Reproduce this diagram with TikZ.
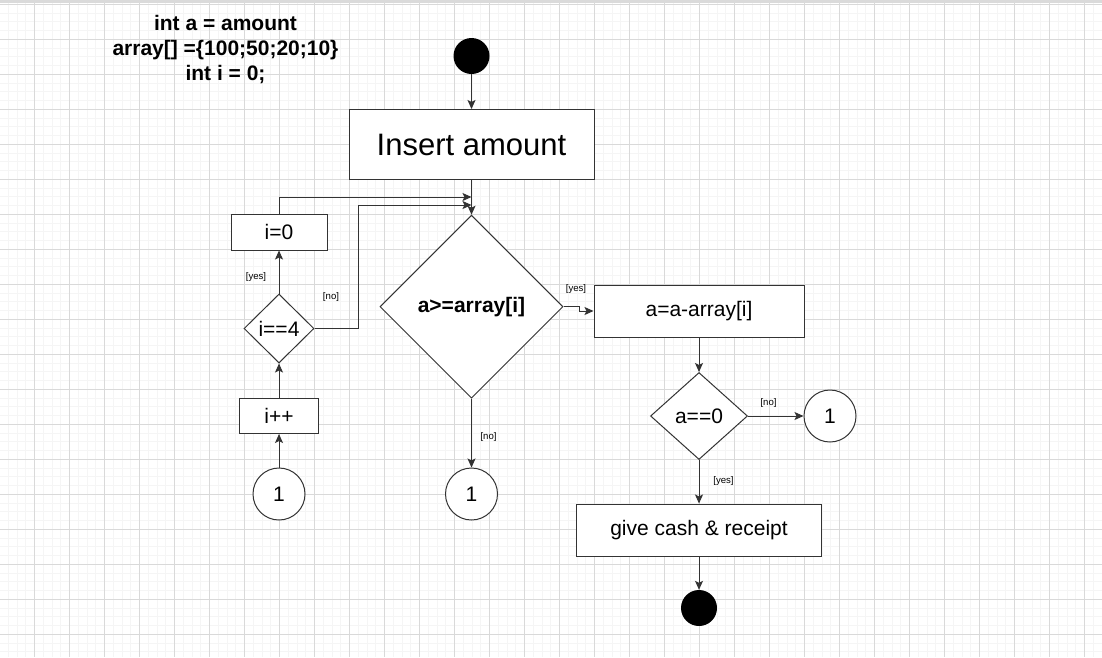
\documentclass[tikz,border=0pt]{standalone}
\usepackage{fontspec}
\setmainfont{Liberation Sans}
\usetikzlibrary{shapes.geometric,arrows.meta}
\definecolor{gmaj}{HTML}{D9D9D9}
\definecolor{gmin}{HTML}{F5F5F5}
\definecolor{ln}{HTML}{333333}
\definecolor{topbar}{HTML}{DADADA}
\begin{document}
\begin{tikzpicture}[x=1pt,y=-1pt,
  box/.style={draw=ln, line width=1pt, fill=white, rectangle, inner sep=0pt, font=\fontsize{21}{25}\selectfont},
  dec/.style={draw=ln, line width=1pt, fill=white, diamond, shape aspect=1, inner sep=0pt, font=\fontsize{21}{25}\selectfont},
  conn/.style={draw=ln, line width=1pt, fill=white, circle, inner sep=0pt, minimum size=52pt, font=\fontsize{21}{25}\selectfont},
  dot/.style={circle, fill=black, inner sep=0pt, minimum size=36pt},
  flow/.style={draw=ln, line width=1pt, -{Stealth[length=9pt,width=8pt,inset=2pt]}},
  lbl/.style={font=\fontsize{9.6}{11}\selectfont, inner sep=0pt},
]
\useasboundingbox (0,0) rectangle (1102,657);
\fill[white] (0,0) rectangle (1102,657);
% grid
\foreach \i in {0,...,126} {\draw[gmin, line width=1pt] ({\i*8.75-0.3},0) -- ({\i*8.75-0.3},657);}
\foreach \i in {0,...,75} {\draw[gmin, line width=1pt] (0,{\i*8.75+4.3}) -- (1102,{\i*8.75+4.3});}
\foreach \i in {0,...,32} {\draw[gmaj, line width=1pt] ({\i*35-0.3},0) -- ({\i*35-0.3},657);}
\foreach \i in {0,...,18} {\draw[gmaj, line width=1pt] (0,{\i*35+4.3}) -- (1102,{\i*35+4.3});}
\fill[topbar] (0,0) rectangle (1102,3);

% declarations
\node[font=\bfseries\fontsize{21}{25}\selectfont, align=center, inner sep=0pt] (decl) at (225.5,50) {int a = amount\\array[] =\{100;50;20;10\}\\int i = 0;};

% main column
\node[dot] (start) at (471.5,56) {};
\node[box, minimum width=245pt, minimum height=70pt, font=\fontsize{31}{36}\selectfont] (ins) at (471.5,144.5) {Insert amount};
\node[dec, minimum width=183pt, minimum height=183pt, font=\bfseries\fontsize{21}{25}\selectfont] (cmp) at (471.5,306.7) {a>=array[i]};
\node[conn] (c2) at (471.5,494) {1};

% right column
\node[box, minimum width=210pt, minimum height=52pt] (sub) at (699,311) {a=a-array[i]};
\node[dec, minimum width=97pt, minimum height=87pt] (zero) at (699,416) {a==0};
\node[conn] (c3) at (830,416) {1};
\node[box, minimum width=245pt, minimum height=52pt] (give) at (699,530) {give cash \& receipt};
\node[dot] (end) at (699,608) {};

% left column
\node[box, minimum width=96pt, minimum height=36pt] (iz) at (279,232) {i=0};
\node[dec, minimum width=70pt, minimum height=69pt] (ifour) at (279,328.5) {i==4};
\node[box, minimum width=79pt, minimum height=35pt] (inc) at (279,416) {i++};
\node[conn] (c1) at (279,494) {1};

% connectors
\coordinate (j1) at (471.5,197);
\coordinate (j2) at (471.5,205);
\coordinate (bend) at (358,205);
\coordinate (s1) at (579.5,306.7);

\draw[flow] (start) -- (ins);
\draw[flow] (ins) -- (cmp);
\draw[flow] (iz.north) |- (j1);
\draw[flow] (ifour.east) -| (bend) -- (j2);
\draw[flow] (ifour) -- (iz);
\draw[flow] (inc) -- (ifour);
\draw[flow] (c1) -- (inc);
\draw[flow] (cmp) -- (c2);
\draw[flow] (cmp.east) -- (s1) |- (sub.west);
\draw[flow] (sub) -- (zero);
\draw[flow] (zero) -- (c3);
\draw[flow] (zero) -- (give);
\draw[flow] (give) -- (end);

% labels
\node[lbl] (lyes1) at (256,277) {[yes]};
\node[lbl] (lno1) at (331,297) {[no]};
\node[lbl] (lno2) at (488.5,437.5) {[no]};
\node[lbl] (lyes2) at (576,289) {[yes]};
\node[lbl] (lno3) at (768.5,403) {[no]};
\node[lbl] (lyes3) at (723.5,481.5) {[yes]};
\end{tikzpicture}
\end{document}
